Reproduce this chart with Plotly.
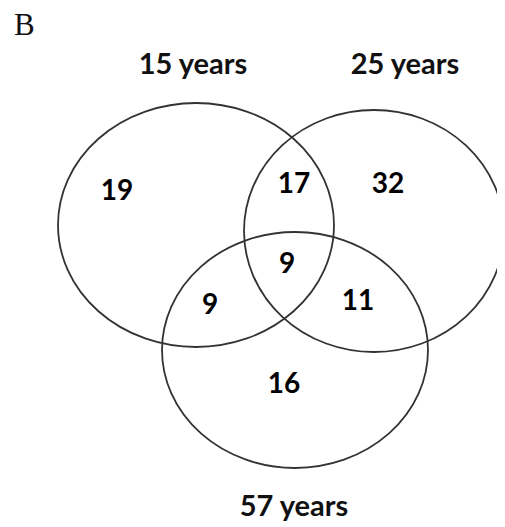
import plotly.graph_objects as go

# ---- data ----
set_labels = ["15 years", "25 years", "57 years"]
region_names = ["15 only", "15&25", "25 only", "all three", "15&57", "25&57", "57 only"]
region_values = [19, 17, 32, 9, 9, 11, 16]
panel_label = "B"

# ---- layout geometry (page-pixel coordinate system) ----
W, H = 505, 527
OFF = 8  # default page body margin
circles = [  # cx, cy, rx, ry
    (196, 225, 138, 122),
    (374, 231, 130, 121),
    (295, 350, 133, 118),
]
label_pos = [(193, 67), (405, 67), (294, 509)]
region_pos = [(117, 193), (294, 186), (388, 186), (287, 266), (210, 307), (358, 303), (284, 386)]

fig = go.Figure()

fig.add_trace(go.Scatter(
    x=[p[0] for p in region_pos],
    y=[p[1] for p in region_pos],
    mode="text",
    text=[str(v) for v in region_values],
    textfont=dict(family="Lato", size=28, color="#000000", weight="bold"),
    hovertext=region_names,
    showlegend=False,
))

fig.add_trace(go.Scatter(
    x=[p[0] for p in label_pos],
    y=[p[1] for p in label_pos],
    mode="text",
    text=set_labels,
    textfont=dict(family="Lato", size=29, color="#111111", weight="bold"),
    showlegend=False,
))

for cx, cy, rx, ry in circles:
    fig.add_shape(type="circle", xref="x", yref="y",
                  x0=cx - rx, x1=cx + rx, y0=cy - ry, y1=cy + ry,
                  line=dict(color="#333333", width=1.8), layer="below")

fig.add_annotation(x=12, y=24, xref="x", yref="y", text=panel_label, showarrow=False,
                   xanchor="left", yanchor="middle",
                   font=dict(family="Liberation Serif", size=31, color="#111111"))

fig.update_layout(
    width=W - OFF, height=H - OFF, autosize=False,
    margin=dict(l=0, r=0, t=0, b=0),
    paper_bgcolor="white", plot_bgcolor="white",
    xaxis=dict(range=[OFF, W], visible=False, fixedrange=True),
    yaxis=dict(range=[H, OFF], visible=False, fixedrange=True),
)

fig.write_html("out.html")
